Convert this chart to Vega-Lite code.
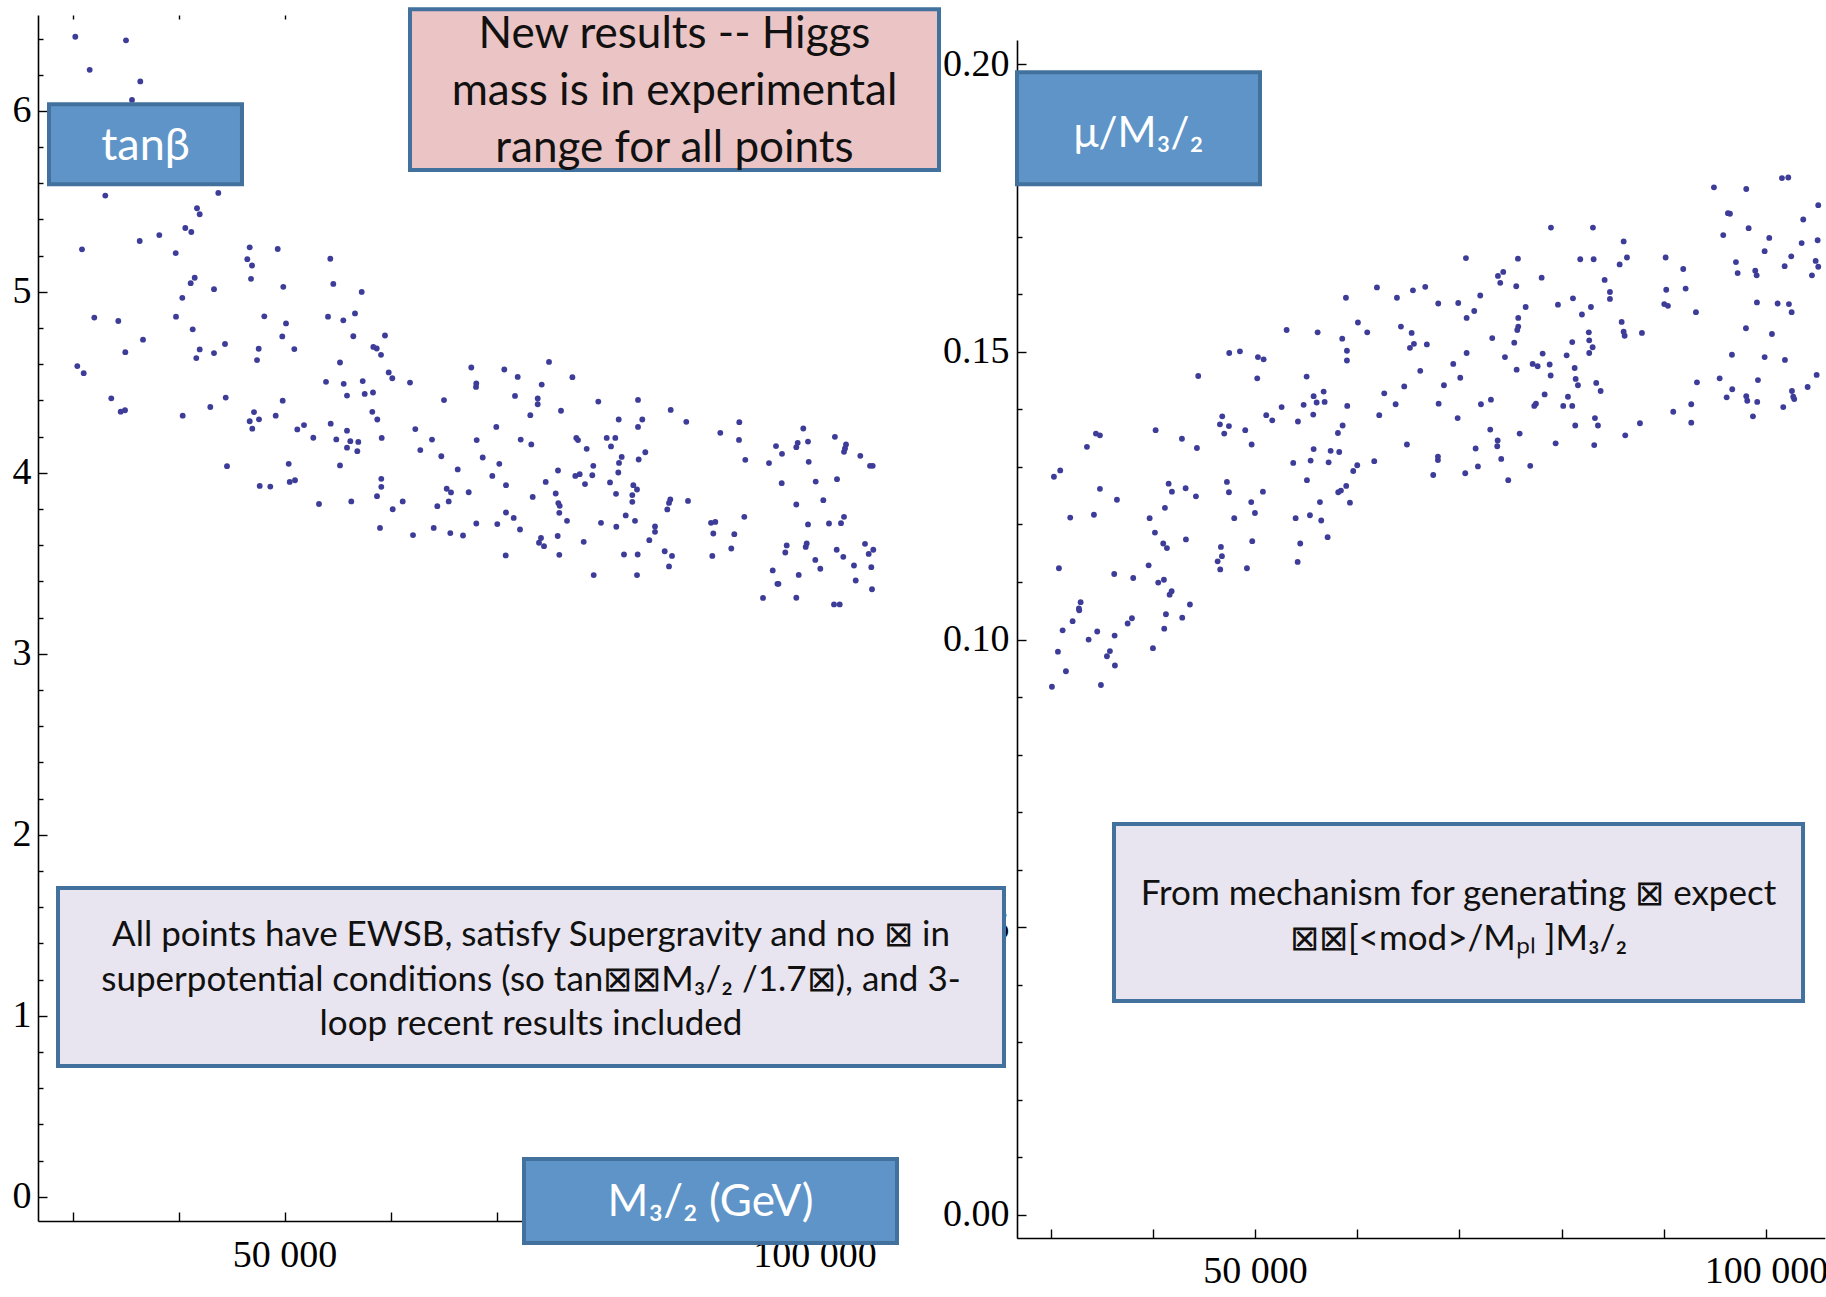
{
"$schema": "https://vega.github.io/schema/vega-lite/v6.json",
"width": 1826, "height": 1238,
"autosize": {"type": "none"},
"padding": {"left": 0, "top": 0, "right": 0, "bottom": 59},
"background": "white",
"config": {
  "view": {"stroke": null},
  "axis": {"grid": false, "domainColor": "black", "domainWidth": 1.6, "tickColor": "black", "tickWidth": 1.4,
           "labelFont": "Liberation Serif", "labelFontSize": 38, "labelColor": "black", "title": null,
           "labelOverlap": false, "labelFlush": false, "labelAngle": 0}
},
"datasets": {
"L": [
{"m":30264,"v":6.41},{"m":35047,"v":6.39},{"m":31620,"v":6.227},{"m":36397,"v":6.163},{"m":35613,"v":6.061},{"m":33094,"v":5.532},{"m":43755,"v":5.547},{"m":41745,"v":5.462},{"m":41999,"v":5.429},{"m":40642,"v":5.353},{"m":41208,"v":5.331},{"m":38189,"v":5.314},{"m":36340,"v":5.281},{"m":30896,"v":5.235},{"m":39736,"v":5.214},{"m":46717,"v":5.246},{"m":49359,"v":5.237},{"m":46491,"v":5.181},{"m":46935,"v":5.146},{"m":46840,"v":5.072},{"m":54321,"v":5.183},{"m":54604,"v":5.044},{"m":49887,"v":5.028},{"m":43349,"v":5.015},{"m":41528,"v":5.078},{"m":41151,"v":5.048},{"m":40359,"v":4.967},{"m":32057,"v":4.858},{"m":34321,"v":4.839},{"m":36651,"v":4.736},{"m":34981,"v":4.667},{"m":39764,"v":4.863},{"m":41340,"v":4.793},{"m":41999,"v":4.682},{"m":41679,"v":4.634},{"m":43349,"v":4.662},{"m":44387,"v":4.712},{"m":48095,"v":4.865},{"m":50142,"v":4.826},{"m":49793,"v":4.754},{"m":47566,"v":4.686},{"m":47406,"v":4.623},{"m":50925,"v":4.684},{"m":54104,"v":4.863},{"m":55547,"v":4.843},{"m":55236,"v":4.61},{"m":53915,"v":4.503},{"m":55585,"v":4.492},{"m":55896,"v":4.427},{"m":30453,"v":4.59},{"m":31057,"v":4.551},{"m":33660,"v":4.412},{"m":34547,"v":4.338},{"m":34953,"v":4.346},{"m":40396,"v":4.316},{"m":43000,"v":4.364},{"m":44453,"v":4.416},{"m":47123,"v":4.336},{"m":46717,"v":4.285},{"m":47594,"v":4.296},{"m":46963,"v":4.244},{"m":49170,"v":4.316},{"m":49830,"v":4.399},{"m":51208,"v":4.24},{"m":51840,"v":4.264},{"m":52717,"v":4.194},{"m":54359,"v":4.272},{"m":54887,"v":4.185},{"m":55896,"v":4.233},{"m":55896,"v":4.139},{"m":55236,"v":4.041},{"m":44576,"v":4.037},{"m":50396,"v":4.05},{"m":47660,"v":3.928},{"m":48660,"v":3.924},{"m":50491,"v":3.95},{"m":50991,"v":3.959},{"m":53255,"v":3.828},
{"m":57283,"v":5.0},{"m":56651,"v":4.881},{"m":56491,"v":4.755},{"m":59481,"v":4.759},
{"m":58378,"v":4.696},{"m":58699,"v":4.687},{"m":59104,"v":4.652},{"m":59830,"v":4.555},{"m":60170,"v":4.523},{"m":57378,"v":4.507},{"m":61840,"v":4.499},{"m":57566,"v":4.436},{"m":58349,"v":4.444},{"m":58283,"v":4.337},{"m":58755,"v":4.295},{"m":56208,"v":4.175},{"m":56962,"v":4.171},{"m":56868,"v":4.12},{"m":59170,"v":4.193},{"m":62340,"v":4.242},{"m":63915,"v":4.184},{"m":62811,"v":4.126},{"m":64793,"v":4.092},{"m":65047,"v":4.402},{"m":66340,"v":4.019},{"m":67623,"v":4.582},{"m":68094,"v":4.494},{"m":68066,"v":4.475},{"m":68132,"v":4.181},{"m":68698,"v":4.085},{"m":69981,"v":4.254},{"m":70264,"v":4.05},{"m":69604,"v":3.983},{"m":70896,"v":3.932},{"m":65302,"v":3.912},{"m":65707,"v":3.892},{"m":67377,"v":3.893},{"m":65490,"v":3.842},{"m":64417,"v":3.816},{"m":56302,"v":3.842},{"m":59132,"v":3.967},{"m":59132,"v":3.923},{"m":58727,"v":3.871},{"m":61151,"v":3.842},{"m":60208,"v":3.799},{"m":59009,"v":3.696},{"m":62123,"v":3.656},{"m":64076,"v":3.696},{"m":65642,"v":3.667},{"m":66840,"v":3.654},{"m":68094,"v":3.72},{"m":70075,"v":3.717},{"m":70896,"v":3.781},{"m":71623,"v":3.751},{"m":72217,"v":3.687},{"m":70868,"v":3.544},{"m":70736,"v":4.571},{"m":72000,"v":4.53},{"m":71745,"v":4.425},{"m":74264,"v":4.488},{"m":74953,"v":4.613},{"m":73887,"v":4.411},{"m":73887,"v":4.379},{"m":73189,"v":4.319},{"m":76085,"v":4.343},{"m":72283,"v":4.184},{"m":73283,"v":4.157},{"m":77160,"v":4.529},{"m":79604,"v":4.394},{"m":83349,"v":4.403},{"m":81528,"v":4.295},{"m":83349,"v":4.254},{"m":77528,"v":4.193},{"m":77689,"v":4.181},{"m":80396,"v":4.193},{"m":81208,"v":4.193},{"m":80802,"v":4.146},{"m":78509,"v":4.133},{"m":81811,"v":4.088},{"m":81557,"v":4.055},{"m":79132,"v":4.039},{"m":83412,"v":4.074},{"m":75802,"v":4.013},{"m":77434,"v":3.983},{"m":77849,"v":3.993},{"m":79038,"v":3.987},{"m":78349,"v":3.938},{"m":81491,"v":4.002},{"m":80708,"v":3.947},{"m":74642,"v":3.95},{"m":75585,"v":3.886},{"m":73415,"v":3.867},{"m":75830,"v":3.833},{"m":75962,"v":3.818},{"m":75924,"v":3.779},{"m":76651,"v":3.735},{"m":81274,"v":3.884},{"m":82906,"v":3.932},{"m":82812,"v":3.877},{"m":82812,"v":3.84},{"m":83255,"v":3.908},{"m":82189,"v":3.765},{"m":83066,"v":3.735},{"m":79858,"v":3.724},{"m":81302,"v":3.702},{"m":75773,"v":3.651},{"m":74198,"v":3.64},{"m":74010,"v":3.614},{"m":74481,"v":3.595},{"m":78227,"v":3.619},{"m":75924,"v":3.547},{"m":82028,"v":3.549},{"m":83318,"v":3.549},{"m":79170,"v":3.435},{"m":83255,"v":3.435},
{"m":86434,"v":4.348},{"m":83755,"v":4.295},{"m":87906,"v":4.282},{"m":91113,"v":4.221},{"m":92906,"v":4.28},{"m":92877,"v":4.182},{"m":93472,"v":4.072},{"m":84038,"v":4.114},{"m":86396,"v":3.853},{"m":86274,"v":3.834},{"m":86113,"v":3.798},{"m":88066,"v":3.845},{"m":84953,"v":3.704},{"m":84953,"v":3.674},{"m":84415,"v":3.628},{"m":85868,"v":3.567},{"m":86557,"v":3.541},{"m":86274,"v":3.483},{"m":90236,"v":3.724},{"m":90642,"v":3.729},{"m":93378,"v":3.757},{"m":90453,"v":3.665},{"m":92434,"v":3.661},{"m":92151,"v":3.582},{"m":90359,"v":3.541},{"m":95708,"v":4.054},{"m":96368,"v":4.148},{"m":96934,"v":4.105},{"m":96905,"v":3.943},{"m":98283,"v":4.142},{"m":98415,"v":4.166},{"m":98943,"v":4.245},{"m":99387,"v":4.173},{"m":99453,"v":4.061},{"m":98283,"v":3.825},{"m":100113,"v":3.952},{"m":100830,"v":3.849},{"m":99387,"v":3.715},{"m":97377,"v":3.599},{"m":97245,"v":3.56},{"m":99264,"v":3.61},{"m":99170,"v":3.591},{"m":100076,"v":3.519},{"m":100547,"v":3.47},{"m":96057,"v":3.461},{"m":96500,"v":3.387},{"m":96600,"v":3.387},{"m":98510,"v":3.436},{"m":95142,"v":3.309},{"m":98283,"v":3.31},{"m":101924,"v":4.199},{"m":102972,"v":4.157},{"m":102877,"v":4.135},{"m":102783,"v":4.116},{"m":104321,"v":4.094},{"m":105236,"v":4.039},{"m":105490,"v":4.039},{"m":102123,"v":3.965},{"m":101368,"v":3.72},{"m":102500,"v":3.722},{"m":102783,"v":3.757},{"m":102094,"v":3.575},{"m":102717,"v":3.536},{"m":104764,"v":3.608},{"m":105113,"v":3.552},{"m":105547,"v":3.575},{"m":103726,"v":3.488},{"m":105358,"v":3.479},{"m":103887,"v":3.405},{"m":105424,"v":3.357},{"m":101840,"v":3.273},{"m":102377,"v":3.273}
],
"R": [
{"m":44453,"v":0.1458},{"m":50226,"v":0.1454},{"m":55060,"v":0.1457},{"m":34442,"v":0.1358},{"m":34834,"v":0.1355},{"m":33562,"v":0.1335},{"m":40284,"v":0.1364},{"m":42858,"v":0.1349},{"m":44325,"v":0.1333},{"m":46801,"v":0.1388},{"m":46575,"v":0.1374},{"m":47456,"v":0.1371},{"m":46997,"v":0.1358},{"m":49052,"v":0.1364},{"m":49678,"v":0.1339},{"m":51107,"v":0.139},{"m":51694,"v":0.1381},{"m":52614,"v":0.1404},{"m":54767,"v":0.1408},{"m":54209,"v":0.1379},{"m":53749,"v":0.1307},{"m":30949,"v":0.1294},{"m":30333,"v":0.1283},{"m":34834,"v":0.1262},{"m":36497,"v":0.1243},{"m":31928,"v":0.1212},{"m":34247,"v":0.1217},{"m":41556,"v":0.1271},{"m":41879,"v":0.1257},{"m":43220,"v":0.1263},{"m":44228,"v":0.1249},{"m":41194,"v":0.1229},{"m":39697,"v":0.1211},{"m":40216,"v":0.1186},{"m":41028,"v":0.1167},{"m":41390,"v":0.1159},{"m":43249,"v":0.1174},{"m":47260,"v":0.1274},{"m":47456,"v":0.1256},{"m":50783,"v":0.1257},{"m":49639,"v":0.1239},{"m":50001,"v":0.122},{"m":47975,"v":0.1211},{"m":49737,"v":0.1171},{"m":46673,"v":0.1161},{"m":46771,"v":0.1145},{"m":46351,"v":0.1136},{"m":46605,"v":0.1122},{"m":49218,"v":0.1124},{"m":53983,"v":0.1211},{"m":54433,"v":0.1167},{"m":54180,"v":0.1135},{"m":30822,"v":0.1124},{"m":36233,"v":0.1114},{"m":38093,"v":0.1107},{"m":39599,"v":0.1129},{"m":40539,"v":0.1099},{"m":41096,"v":0.1104},{"m":41850,"v":0.1084},{"m":41654,"v":0.1078},{"m":43640,"v":0.1061},{"m":32945,"v":0.1065},{"m":32779,"v":0.1054},{"m":32808,"v":0.1051},{"m":32162,"v":0.1032},{"m":31184,"v":0.1016},{"m":34570,"v":0.1014},{"m":33728,"v":0.1},{"m":36272,"v":0.1007},{"m":37965,"v":0.1037},{"m":37545,"v":0.1028},{"m":41292,"v":0.1044},{"m":42887,"v":0.1038},{"m":41125,"v":0.1019},{"m":40020,"v":0.0985},{"m":30724,"v":0.0979},{"m":31507,"v":0.0945},{"m":30137,"v":0.0918},{"m":35812,"v":0.098},{"m":35519,"v":0.0971},{"m":36301,"v":0.0955},{"m":34932,"v":0.0921},
{"m":53102,"v":0.1538},{"m":47486,"v":0.1498},{"m":48533,"v":0.1501},{"m":50294,"v":0.1491},{"m":50851,"v":0.1487},{"m":55089,"v":0.1277},{"m":55451,"v":0.1311},
{"m":78965,"v":0.1716},{"m":70648,"v":0.1663},{"m":75736,"v":0.1662},{"m":81832,"v":0.1661},{"m":73778,"v":0.1632},{"m":74297,"v":0.1639},{"m":74004,"v":0.162},{"m":75570,"v":0.1614},{"m":78055,"v":0.1629},{"m":61939,"v":0.1612},{"m":58905,"v":0.1594},{"m":63895,"v":0.1594},{"m":65461,"v":0.1607},{"m":66665,"v":0.1613},{"m":67937,"v":0.1584},{"m":69894,"v":0.1585},{"m":72047,"v":0.1598},{"m":71459,"v":0.1571},{"m":70715,"v":0.1559},{"m":76490,"v":0.1578},{"m":75766,"v":0.1559},{"m":75766,"v":0.1544},{"m":75668,"v":0.1538},{"m":75374,"v":0.1516},{"m":81118,"v":0.1593},{"m":79649,"v":0.1582},{"m":81998,"v":0.1565},{"m":56136,"v":0.1534},{"m":58543,"v":0.1523},{"m":59003,"v":0.1502},{"m":59003,"v":0.1485},{"m":60079,"v":0.1551},{"m":60989,"v":0.1534},{"m":64287,"v":0.1544},{"m":65334,"v":0.1533},{"m":65559,"v":0.1514},{"m":65168,"v":0.1507},{"m":66823,"v":0.1513},{"m":70715,"v":0.1498},{"m":69405,"v":0.1479},{"m":70090,"v":0.1455},{"m":73221,"v":0.1524},{"m":74464,"v":0.1491},{"m":75609,"v":0.1469},{"m":77175,"v":0.1479},{"m":77664,"v":0.1475},{"m":78153,"v":0.1497},{"m":78838,"v":0.1478},{"m":78936,"v":0.1459},{"m":80501,"v":0.1494},{"m":55745,"v":0.1423},{"m":56723,"v":0.1431},{"m":56038,"v":0.1412},{"m":56821,"v":0.1413},{"m":55706,"v":0.1391},{"m":59033,"v":0.1406},{"m":62653,"v":0.1428},{"m":64610,"v":0.144},{"m":66175,"v":0.1467},{"m":68494,"v":0.1442},{"m":63768,"v":0.1409},{"m":62163,"v":0.139},{"m":58582,"v":0.1372},{"m":58122,"v":0.1359},{"m":67976,"v":0.141},{"m":69835,"v":0.1385},{"m":72115,"v":0.1409},{"m":73094,"v":0.1417},{"m":77333,"v":0.1406},{"m":77497,"v":0.141},{"m":78348,"v":0.1426},{"m":80628,"v":0.1422},{"m":80168,"v":0.1406},{"m":73025,"v":0.1365},{"m":75903,"v":0.1358},{"m":73749,"v":0.1346},{"m":73710,"v":0.1336},{"m":71596,"v":0.1332},{"m":74101,"v":0.1314},{"m":76939,"v":0.1302},{"m":79424,"v":0.1341},{"m":74785,"v":0.1277},{"m":71820,"v":0.1301},{"m":70578,"v":0.1289},{"m":67447,"v":0.1286},{"m":67907,"v":0.1318},{"m":67907,"v":0.1312},{"m":64874,"v":0.1339},{"m":61675,"v":0.131},{"m":59620,"v":0.1293},{"m":60012,"v":0.1303},{"m":57408,"v":0.1328},{"m":58249,"v":0.1326},{"m":55745,"v":0.1331},{"m":57212,"v":0.1308},{"m":58151,"v":0.1256},{"m":58415,"v":0.1259},{"m":58934,"v":0.1267},{"m":59297,"v":0.1238},{"m":56361,"v":0.1239},{"m":55382,"v":0.1216},{"m":56489,"v":0.1207},{"m":57114,"v":0.1178},
{"m":94914,"v":0.1786},{"m":98076,"v":0.1783},{"m":101568,"v":0.1802},{"m":102188,"v":0.1803},{"m":105120,"v":0.1755},{"m":96284,"v":0.1741},{"m":96480,"v":0.174},{"m":103652,"v":0.173},{"m":98309,"v":0.1715},{"m":95824,"v":0.1703},{"m":100326,"v":0.1698},{"m":99874,"v":0.1675},{"m":103495,"v":0.1689},{"m":105061,"v":0.1694},{"m":102478,"v":0.1666},{"m":101832,"v":0.1649},{"m":104865,"v":0.1658},{"m":105120,"v":0.1648},{"m":104503,"v":0.1633},{"m":97066,"v":0.1656},{"m":97233,"v":0.1637},{"m":98956,"v":0.1641},{"m":99093,"v":0.1633},{"m":99121,"v":0.1586},{"m":101147,"v":0.1584},{"m":102252,"v":0.1583},{"m":102517,"v":0.1569},{"m":98046,"v":0.1541},{"m":100590,"v":0.1531},{"m":96675,"v":0.1495},{"m":99874,"v":0.1491},{"m":101861,"v":0.1486},{"m":104963,"v":0.146},{"m":95472,"v":0.1454},{"m":99219,"v":0.1451},{"m":104081,"v":0.1439},{"m":96705,"v":0.1435},{"m":96158,"v":0.1421},{"m":98076,"v":0.1423},{"m":98173,"v":0.1415},{"m":99150,"v":0.1413},{"m":102546,"v":0.1432},{"m":102673,"v":0.1422},{"m":102771,"v":0.1418},{"m":101695,"v":0.1404},{"m":98730,"v":0.1388},{"m":93251,"v":0.1447},{"m":92693,"v":0.1409},{"m":92693,"v":0.1377},{"m":90932,"v":0.1396},{"m":87674,"v":0.1376},{"m":86235,"v":0.1355},{"m":90187,"v":0.1664},{"m":91909,"v":0.1644},{"m":90246,"v":0.1608},{"m":92144,"v":0.161},{"m":90050,"v":0.1583},{"m":90412,"v":0.158},{"m":93153,"v":0.1569},{"m":83074,"v":0.1716},{"m":86079,"v":0.1692},{"m":83143,"v":0.1661},{"m":86402,"v":0.1664},{"m":85687,"v":0.1652},{"m":84218,"v":0.1625},{"m":84738,"v":0.1604},{"m":84738,"v":0.1592},{"m":82879,"v":0.1578},{"m":85883,"v":0.1552},{"m":82671,"v":0.1534},{"m":82711,"v":0.152},{"m":83044,"v":0.1508},{"m":82710,"v":0.1498},{"m":86079,"v":0.1535},{"m":86177,"v":0.1528},{"m":87869,"v":0.1533},{"m":81049,"v":0.1517},{"m":81284,"v":0.1472},{"m":81382,"v":0.1453},{"m":81607,"v":0.1442},{"m":83397,"v":0.1446},{"m":83827,"v":0.1432},{"m":81049,"v":0.1406},{"m":83270,"v":0.1385},{"m":83564,"v":0.1372},{"m":81342,"v":0.1372},{"m":83201,"v":0.1338}
]
},
"layer": [
{
  "resolve": {"axis": {"x": "independent", "y": "independent"}},
  "layer": [
    {
      "data": {"name": "L"},
      "mark": {"type": "circle", "size": 34, "opacity": 1, "color": "#3D3D99"},
      "encoding": {
        "x": {"field": "m", "type": "quantitative",
              "scale": {"domain": [26745, 107028], "range": [38, 889], "nice": false, "zero": false},
              "axis": {"orient": "bottom", "offset": -17, "values": [30000,40000,50000,60000,70000,80000,90000,100000],
                       "labelExpr": "datum.value == 50000 ? '50 000' : (datum.value == 100000 ? '100 000' : '')",
                       "tickSize": -9, "labelPadding": 24}},
        "y": {"field": "v", "type": "quantitative",
              "scale": {"domain": [-0.134, 6.53], "range": [1221, 15], "nice": false, "zero": false},
              "axis": {"orient": "left", "offset": -38, "values": [0,1,2,3,4,5,6], "format": "d",
                       "tickSize": -9, "labelPadding": 16}}
      }
    },
    {
      "data": {"values": [{}]},
      "mark": {"type": "rect", "fill": "#EBC5C5", "stroke": "#41719C", "strokeWidth": 4},
      "encoding": {
        "x": {"datum": 61839, "type": "quantitative",
              "axis": {"orient": "top", "offset": -15, "domain": false, "labels": false, "tickSize": -4,
                       "values": [30000, 40000, 50000]}},
        "x2": {"datum": 111745},
        "y": {"datum": 6.562, "type": "quantitative",
              "axis": {"orient": "left", "offset": -38, "domain": false, "labels": false, "tickSize": -5,
                       "values": [0.2,0.4,0.6,0.8,1.2,1.4,1.6,1.8,2.2,2.4,2.6,2.8,3.2,3.4,3.6,3.8,4.2,4.4,4.6,4.8,5.2,5.4,5.6,5.8,6.2,6.4]}},
        "y2": {"datum": 5.673}
      }
    },
    {
      "data": {"values": [{}]},
      "mark": {"type": "text", "text": ["New results -- Higgs", "mass is in experimental", "range for all points"],
               "font": "Lato", "fontSize": 44, "lineHeight": 57, "align": "center", "baseline": "middle", "color": "#111111"},
      "encoding": {"x": {"datum": 86792, "type": "quantitative", "axis": null}, "y": {"datum": 6.4185, "type": "quantitative", "axis": null}}
    },
    {
      "data": {"values": [{}]},
      "mark": {"type": "rect", "fill": "#5E94C8", "stroke": "#41719C", "strokeWidth": 4},
      "encoding": {"x": {"datum": 27783, "type": "quantitative", "axis": null}, "x2": {"datum": 45990},
                   "y": {"datum": 6.0373, "type": "quantitative", "axis": null}, "y2": {"datum": 5.5953}}
    },
    {
      "data": {"values": [{}]},
      "mark": {"type": "text", "text": "tanβ", "font": "Lato", "fontSize": 45, "align": "center", "baseline": "middle", "color": "white"},
      "encoding": {"x": {"datum": 36887, "type": "quantitative", "axis": null}, "y": {"datum": 5.805, "type": "quantitative", "axis": null}}
    },
    {
      "data": {"values": [{}]},
      "mark": {"type": "rect", "fill": "#5E94C8", "stroke": "#41719C", "strokeWidth": 4},
      "encoding": {"x": {"datum": 72594, "type": "quantitative", "axis": null}, "x2": {"datum": 107783},
                   "y": {"datum": 0.2085, "type": "quantitative", "axis": null}, "y2": {"datum": -0.2555}}
    },
    {
      "data": {"values": [{}]},
      "mark": {"type": "text", "text": "M₃/₂ (GeV)", "font": "Lato", "fontSize": 44, "align": "center", "baseline": "middle", "color": "white"},
      "encoding": {"x": {"datum": 90189, "type": "quantitative", "axis": null}, "y": {"datum": -0.0346, "type": "quantitative", "axis": null}}
    },
    {
      "data": {"values": [{}]},
      "mark": {"type": "rect", "fill": "#E9E5F0", "stroke": "#41719C", "strokeWidth": 4},
      "encoding": {"x": {"datum": 28632, "type": "quantitative", "axis": null}, "x2": {"datum": 117877},
                   "y": {"datum": 1.7058, "type": "quantitative", "axis": null}, "y2": {"datum": 0.7224}}
    },
    {
      "data": {"values": [{}]},
      "mark": {"type": "text", "text": ["All points have EWSB, satisfy Supergravity  and no ⊠ in", "superpotential conditions (so  tan⊠⊠M₃/₂ /1.7⊠), and 3-", "loop recent results included"],
               "font": "Lato", "fontSize": 35, "lineHeight": 44.5, "align": "center", "baseline": "middle", "color": "#111111"},
      "encoding": {"x": {"datum": 73255, "type": "quantitative", "axis": null}, "y": {"datum": 1.4461, "type": "quantitative", "axis": null}}
    }
  ]
},
{
  "resolve": {"axis": {"x": "independent", "y": "independent"}},
  "layer": [
    {
      "data": {"name": "R"},
      "mark": {"type": "circle", "size": 34, "opacity": 1, "color": "#3D3D99"},
      "encoding": {
        "x": {"field": "m", "type": "quantitative",
              "scale": {"domain": [26700, 105761], "range": [1016.8, 1824.8], "nice": false, "zero": false},
              "axis": {"orient": "bottom", "offset": 0, "values": [30000,40000,50000,60000,70000,80000,90000,100000],
                       "labelExpr": "datum.value == 50000 ? '50 000' : (datum.value == 100000 ? '100 000' : '')",
                       "tickSize": -9, "labelPadding": 23}},
        "y": {"field": "v", "type": "quantitative",
              "scale": {"domain": [-0.004, 0.2042], "range": [1238, 40], "nice": false, "zero": false},
              "axis": {"orient": "left", "offset": -1017, "values": [0,0.05,0.1,0.15,0.2], "format": ".2f",
                       "tickSize": -9, "labelPadding": 17}}
      }
    },
    {
      "data": {"values": [{}]},
      "mark": {"type": "rect", "fill": "#5E94C8", "stroke": "#41719C", "strokeWidth": 4},
      "encoding": {
        "x": {"datum": 26720, "type": "quantitative", "axis": null},
        "x2": {"datum": 50497},
        "y": {"datum": 0.19861, "type": "quantitative",
              "axis": {"orient": "left", "offset": -1017, "domain": false, "labels": false, "tickSize": -5,
                       "values": [0.01,0.02,0.03,0.04,0.06,0.07,0.08,0.09,0.11,0.12,0.13,0.14,0.16,0.17,0.18,0.19]}},
        "y2": {"datum": 0.17915}
      }
    },
    {
      "data": {"values": [{}]},
      "mark": {"type": "text", "text": "μ/M₃/₂", "font": "Lato", "fontSize": 42, "align": "center", "baseline": "middle", "color": "white"},
      "encoding": {"x": {"datum": 38608, "type": "quantitative", "axis": null}, "y": {"datum": 0.18783, "type": "quantitative", "axis": null}}
    },
    {
      "data": {"values": [{}]},
      "mark": {"type": "rect", "fill": "#E9E5F0", "stroke": "#41719C", "strokeWidth": 4},
      "encoding": {"x": {"datum": 36211, "type": "quantitative", "axis": null}, "x2": {"datum": 103630},
                   "y": {"datum": 0.06794, "type": "quantitative", "axis": null}, "y2": {"datum": 0.03718}}
    },
    {
      "data": {"values": [{}]},
      "mark": {"type": "text", "text": ["From mechanism for generating ⊠ expect", "⊠⊠[<mod>/Mₚₗ ]M₃/₂"],
               "font": "Lato", "fontSize": 35, "lineHeight": 45, "align": "center", "baseline": "middle", "color": "#111111"},
      "encoding": {"x": {"datum": 69920, "type": "quantitative", "axis": null}, "y": {"datum": 0.05577, "type": "quantitative", "axis": null}}
    }
  ]
}
],
"resolve": {"scale": {"x": "independent", "y": "independent"}, "axis": {"x": "independent", "y": "independent"}}
}
